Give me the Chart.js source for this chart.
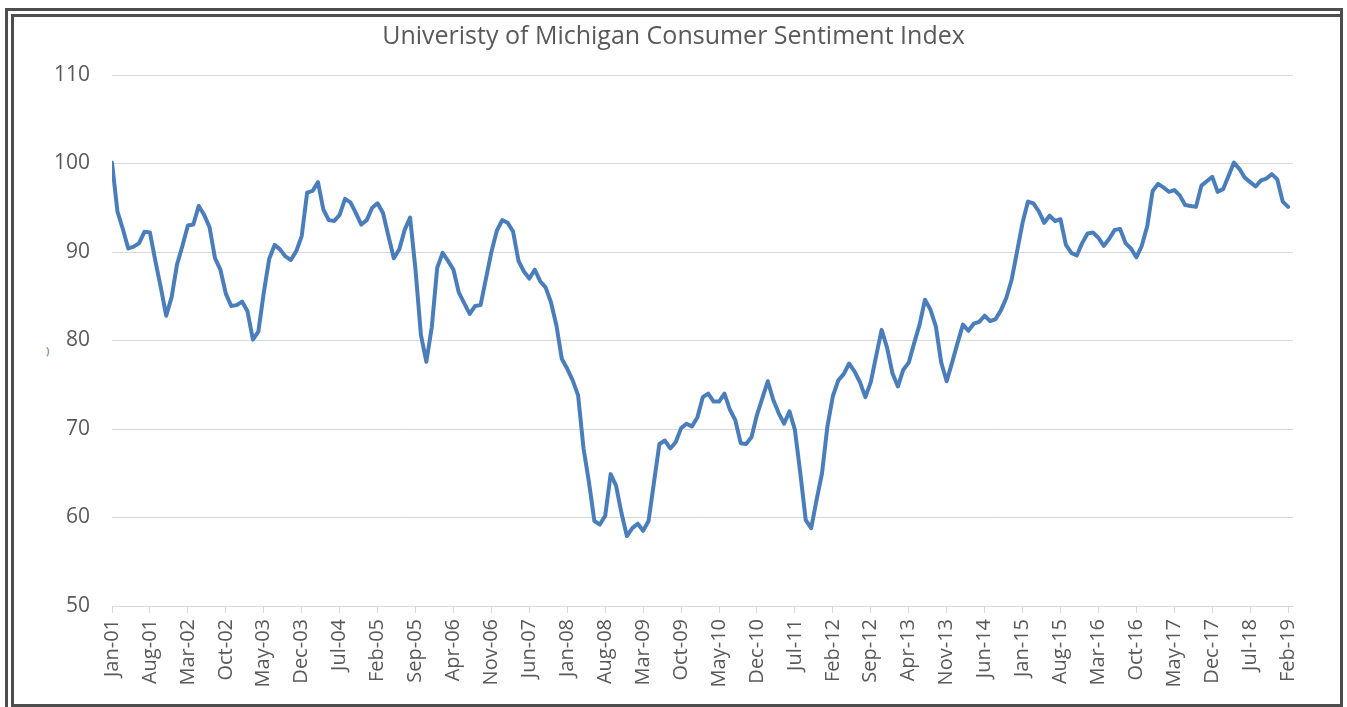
<!DOCTYPE html>
<html>
<head>
<meta charset="utf-8">
<script src="https://cdn.jsdelivr.net/npm/chart.js@4"></script>
<style>
  html, body { margin: 0; padding: 0; background: #fff; width: 1347px; height: 707px; overflow: hidden; }
  #outer { position: absolute; left: 5px; top: 8px; width: 1332px; height: 710px; border: 3px solid #4d4d4d; border-bottom: none; }
  #inner { position: absolute; left: 11px; top: 14px; width: 1329px; height: 687px; border-left: 3px solid #4d4d4d; border-top: 3px solid #4d4d4d; border-bottom: 3px solid #4d4d4d; }
  #mark { position: absolute; left: 46px; top: 343px; font: 11px 'Open Sans', sans-serif; color: #666; }
  #chart { position: absolute; left: 0; top: 0; }
</style>
</head>
<body>
<div id="outer"></div>
<div id="inner"></div>
<span id="mark">)</span>
<canvas id="chart" width="1347" height="707"></canvas>
<script>
// monthly index values, Jan-01 .. Feb-19
const y2001 = [100.1, 94.6, 92.6, 90.4, 90.6, 91.0, 92.3, 92.2, 89.0, 86.0, 82.8, 84.9];
const y2002 = [88.6, 90.7, 93.0, 93.1, 95.2, 94.2, 92.8, 89.3, 88.0, 85.3, 83.9, 84.0];
const y2003 = [84.4, 83.3, 80.1, 81.0, 85.4, 89.2, 90.8, 90.3, 89.5, 89.1, 90.1, 91.8];
const y2004 = [96.7, 96.9, 97.9, 94.8, 93.6, 93.5, 94.2, 96.0, 95.6, 94.4, 93.1, 93.6];
const y2005 = [95.0, 95.5, 94.4, 91.8, 89.3, 90.3, 92.5, 93.9, 88.0, 80.6, 77.6, 81.5];
const y2006 = [88.2, 89.9, 89.0, 88.0, 85.4, 84.2, 83.0, 83.9, 84.0, 87.0, 90.0, 92.4];
const y2007 = [93.6, 93.3, 92.3, 89.0, 87.8, 87.0, 88.0, 86.7, 86.0, 84.3, 81.7, 77.9];
const y2008 = [76.8, 75.5, 73.8, 67.8, 64.0, 59.6, 59.2, 60.2, 64.9, 63.6, 60.5, 57.9];
const y2009 = [58.8, 59.3, 58.5, 59.6, 64.0, 68.3, 68.7, 67.8, 68.5, 70.1, 70.6, 70.3];
const y2010 = [71.3, 73.6, 74.0, 73.1, 73.1, 74.0, 72.2, 71.0, 68.4, 68.3, 69.1, 71.6];
const y2011 = [73.5, 75.4, 73.3, 71.8, 70.6, 72.0, 69.9, 65.0, 59.7, 58.8, 62.0, 65.0];
const y2012 = [70.3, 73.7, 75.5, 76.2, 77.4, 76.5, 75.3, 73.6, 75.3, 78.3, 81.2, 79.2];
const y2013 = [76.3, 74.8, 76.7, 77.5, 79.7, 81.8, 84.6, 83.5, 81.6, 77.5, 75.4, 77.5];
const y2014 = [79.7, 81.8, 81.1, 81.9, 82.1, 82.8, 82.2, 82.4, 83.4, 84.8, 86.9, 90.1];
const y2015 = [93.3, 95.7, 95.5, 94.6, 93.3, 94.1, 93.5, 93.7, 90.8, 89.9, 89.6, 91.0];
const y2016 = [92.1, 92.2, 91.6, 90.7, 91.5, 92.5, 92.6, 91.0, 90.4, 89.4, 90.7, 92.9];
const y2017 = [96.9, 97.7, 97.3, 96.8, 97.0, 96.4, 95.3, 95.2, 95.1, 97.5, 98.0, 98.5];
const y2018 = [96.8, 97.1, 98.6, 100.1, 99.4, 98.4, 97.9, 97.4, 98.1, 98.3, 98.8, 98.2];
const y2019 = [95.7, 95.1];

// one label every 7 months
const tickLabels = ['Jan-01', 'Aug-01', 'Mar-02', 'Oct-02', 'May-03', 'Dec-03', 'Jul-04', 'Feb-05',
  'Sep-05', 'Apr-06', 'Nov-06', 'Jun-07', 'Jan-08', 'Aug-08', 'Mar-09', 'Oct-09', 'May-10', 'Dec-10',
  'Jul-11', 'Feb-12', 'Sep-12', 'Apr-13', 'Nov-13', 'Jun-14', 'Jan-15', 'Aug-15', 'Mar-16', 'Oct-16',
  'May-17', 'Dec-17', 'Jul-18', 'Feb-19'];
const yTicks = [50, 60, 70, 80, 90, 100, 110];

const sentiment = [].concat(y2001, y2002, y2003, y2004, y2005, y2006, y2007, y2008, y2009, y2010,
  y2011, y2012, y2013, y2014, y2015, y2016, y2017, y2018, y2019);

const textColor = '#595959';
const gridColor = '#d9d9d9';

new Chart(document.getElementById('chart'), {
  type: 'line',
  data: {
    datasets: [{
      label: 'Consumer Sentiment',
      data: sentiment.map((v, i) => ({ x: i, y: v })),
      borderColor: '#4a7ebb',
      borderWidth: 4,
      borderJoinStyle: 'round',
      borderCapStyle: 'round',
      pointRadius: 0,
      tension: 0,
      fill: false
    }]
  },
  options: {
    responsive: false,
    animation: false,
    layout: { padding: { left: 54, right: 54, top: 0, bottom: 0 } },
    plugins: {
      legend: { display: false },
      tooltip: { enabled: false },
      title: {
        display: true,
        text: 'Univeristy of Michigan Consumer Sentiment Index',
        color: textColor,
        font: { family: 'Open Sans', size: 25, weight: 'normal' },
        padding: { top: 22, bottom: 23 }
      }
    },
    scales: {
      x: {
        type: 'linear',
        min: 0,
        max: 217.9,
        afterBuildTicks: s => { s.ticks = tickLabels.map((t, k) => ({ value: k * 7 })); },
        afterFit: s => { s.height = 101; },
        ticks: {
          autoSkip: false,
          maxRotation: 90,
          minRotation: 90,
          padding: 6,
          color: textColor,
          font: { family: 'Open Sans', size: 20 },
          callback: (v, idx) => tickLabels[idx]
        },
        grid: { drawOnChartArea: false, drawTicks: true, tickLength: 7, color: gridColor },
        border: { display: true, color: gridColor }
      },
      y: {
        min: 50,
        max: 110,
        afterBuildTicks: s => { s.ticks = yTicks.map(v => ({ value: v })); },
        afterFit: s => { s.width = 58; },
        ticks: {
          padding: 22,
          color: textColor,
          font: { family: 'Open Sans', size: 21 }
        },
        grid: { drawTicks: false, color: gridColor },
        border: { display: false }
      }
    }
  }
});
</script>
</body>
</html>
